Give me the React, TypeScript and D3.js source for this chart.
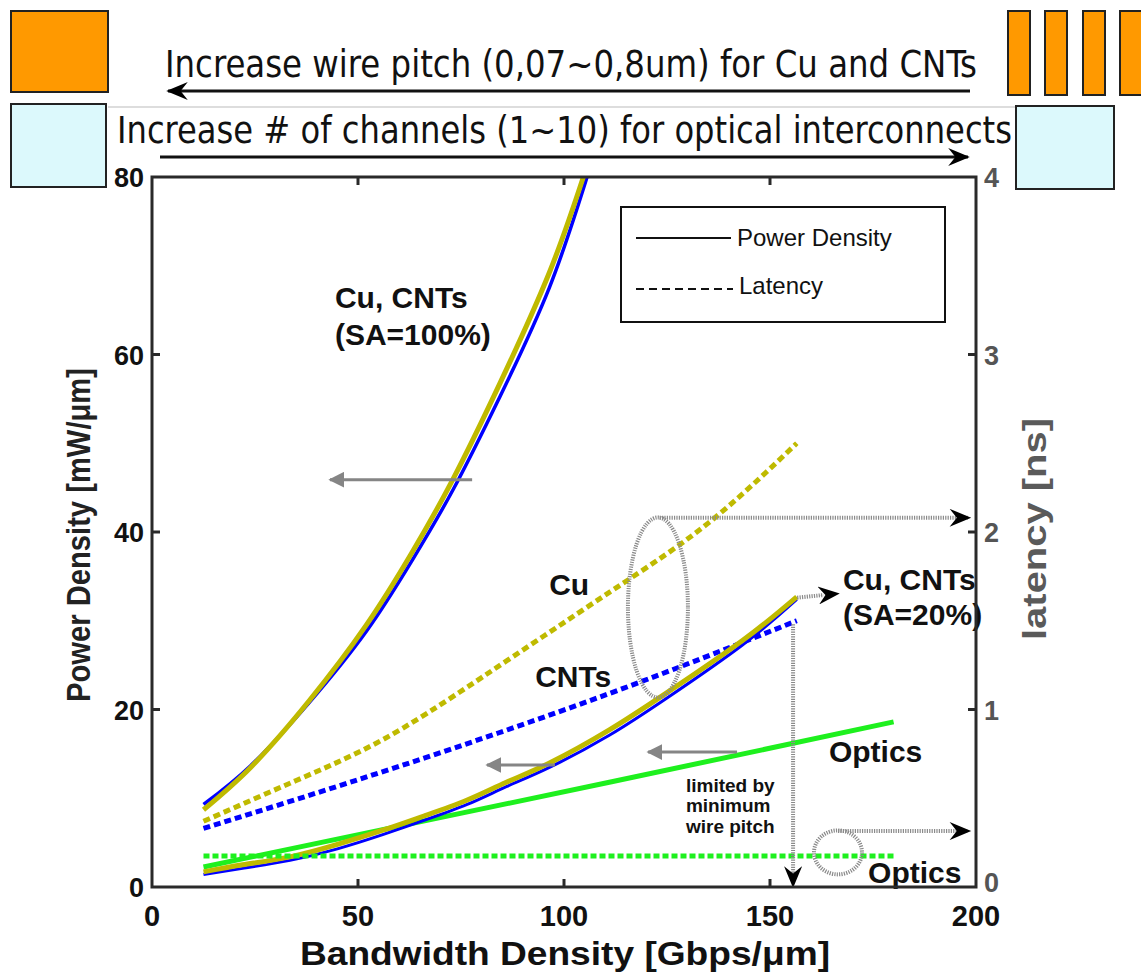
import * as d3 from 'd3';
import React from 'react';

const W = 1141;
const H = 972;
const plot = { left: 152, right: 976, top: 177, bottom: 887 };

// bandwidth density [Gbps/um] vs power density [mW/um], SA=100%
const bwHigh = [12.5, 24, 38, 52, 63, 73, 84.5, 96.5, 104.7];
const cuHigh = [8.7, 13.5, 20.9, 29.5, 37.6, 45.9, 56.8, 69.3, 80];
const bwHighCnt = [12.5, 24, 38, 52, 63, 73, 84.5, 96.5, 105.6];
const cntHigh = [9.3, 13.7, 20.7, 28.8, 36.7, 44.7, 55.3, 67.6, 80];

// SA=20%
const bwLow = [12.5, 22, 33.5, 45, 56, 66, 76.5, 86, 96.6, 111, 125, 143.4, 156.5];
const cuLow = [1.7, 2.5, 3.4, 4.8, 6.4, 8.0, 9.8, 11.8, 14, 17.7, 21.9, 27.8, 32.7];
const cntLow = [1.4, 2.1, 3.0, 4.3, 5.9, 7.5, 9.3, 11.3, 13.5, 17.1, 21.3, 27.3, 32.4];

// optics power
const bwOpt = [12.5, 111, 180];
const optPower = [2.25, 11.8, 18.6];

// latency [ns]
const bwCuLat = [12.5, 35, 56, 80, 111, 135, 156.5];
const cuLat = [0.37, 0.6, 0.83, 1.18, 1.66, 2.05, 2.5];
const bwCntLat = [12.5, 60, 111, 156.5];
const cntLat = [0.33, 0.68, 1.09, 1.5];
const bwOptLat = [12.5, 180];
const optLat = [0.175, 0.175];

const xTicks = [0, 50, 100, 150, 200];
const yTicks = [0, 20, 40, 60, 80];
const y2Ticks = [0, 1, 2, 3, 4];

const OLIVE = '#bfba00';
const BLUE = '#0000ff';
const GREEN = '#1ef01e';
const GREY = '#858585';
const FONT = '"Liberation Sans", Arial, sans-serif';
const NARROW = '"Liberation Sans Narrow", "DejaVu Sans Condensed", "Liberation Sans", sans-serif';

const x = d3.scaleLinear().domain([0, 200]).range([plot.left, plot.right]);
const y = d3.scaleLinear().domain([0, 80]).range([plot.bottom, plot.top]);
const y2 = d3.scaleLinear().domain([0, 4]).range([plot.bottom, plot.top]);

const pts = (xs: number[], ys: number[]) => xs.map((v, i) => [v, ys[i]] as [number, number]);
const powerLine = d3.line<[number, number]>().x(d => x(d[0])).y(d => y(d[1])).curve(d3.curveNatural);
const latLine = d3.line<[number, number]>().x(d => x(d[0])).y(d => y2(d[1])).curve(d3.curveNatural);

const dotted = { stroke: '#8a8a8a', strokeWidth: 4, strokeDasharray: '1.2 1.2', fill: 'none' };

const App = () => {
  return (
    <svg width={W} height={H} style={{ position: 'absolute', left: 0, top: 0, background: '#fff' }}>
      <defs>
        <marker id="blkBig" viewBox="0 0 12 10" refX="11" refY="5" markerWidth="24" markerHeight="18" markerUnits="userSpaceOnUse" orient="auto">
          <path d="M0,0 L12,5 L0,10 L4,5 z" fill="#000" />
        </marker>
        <marker id="gry" viewBox="0 0 10 10" refX="9" refY="5" markerWidth="16" markerHeight="16" markerUnits="userSpaceOnUse" orient="auto">
          <path d="M0,0 L10,5 L0,10 z" fill={GREY} />
        </marker>
      </defs>

      {/* top decoration */}
      <rect x={11} y={11} width={97} height={81} fill="#ff9900" stroke="#222" strokeWidth={2} />
      {[1008, 1045, 1083, 1120].map(px => (
        <rect key={px} x={px} y={11} width={22} height={84} fill="#ff9900" stroke="#222" strokeWidth={2} />
      ))}
      <text x={165} y={77} fontFamily={NARROW} fontSize={37} textLength={812} lengthAdjust="spacingAndGlyphs" fill="#111">
        Increase wire pitch (0,07~0,8um) for Cu and CNTs
      </text>
      <line x1={970} y1={91} x2={168} y2={91} stroke="#111" strokeWidth={3} markerEnd="url(#blkBig)" />
      <line x1={108} y1={107} x2={1015} y2={107} stroke="#bbb" strokeWidth={1} />
      <rect x={11} y={104} width={95} height={83} fill="#dcf9fc" stroke="#222" strokeWidth={2} />
      <rect x={1016} y={106} width={98} height={83} fill="#dcf9fc" stroke="#222" strokeWidth={2} />
      <text x={117} y={143} fontFamily={NARROW} fontSize={37} textLength={895} lengthAdjust="spacingAndGlyphs" fill="#111">
        Increase # of channels (1~10) for optical interconnects
      </text>
      <line x1={160} y1={157} x2={968} y2={157} stroke="#111" strokeWidth={3} markerEnd="url(#blkBig)" />

      {/* series */}
      <path d={powerLine(pts(bwHighCnt, cntHigh)) ?? ''} fill="none" stroke={BLUE} strokeWidth={3.5} />
      <path d={powerLine(pts(bwHigh, cuHigh)) ?? ''} fill="none" stroke={OLIVE} strokeWidth={5} />
      <path d={latLine(pts(bwCuLat, cuLat)) ?? ''} fill="none" stroke={OLIVE} strokeWidth={5} strokeDasharray="7 4" />
      <path d={latLine(pts(bwCntLat, cntLat)) ?? ''} fill="none" stroke={BLUE} strokeWidth={5} strokeDasharray="7 4" />
      <path d={powerLine(pts(bwOpt, optPower)) ?? ''} fill="none" stroke={GREEN} strokeWidth={5} />
      <path d={powerLine(pts(bwLow, cntLow)) ?? ''} fill="none" stroke={BLUE} strokeWidth={3} />
      <path d={powerLine(pts(bwLow, cuLow)) ?? ''} fill="none" stroke={OLIVE} strokeWidth={5} />
      <path d={latLine(pts(bwOptLat, optLat)) ?? ''} fill="none" stroke={GREEN} strokeWidth={5} strokeDasharray="6 3" />

      {/* annotations */}
      <line x1={x(77.7)} y1={y(45.9)} x2={x(43.2)} y2={y(45.9)} stroke={GREY} strokeWidth={3} markerEnd="url(#gry)" />
      <line x1={x(97.8)} y1={y(13.75)} x2={x(81.3)} y2={y(13.75)} stroke={GREY} strokeWidth={3} markerEnd="url(#gry)" />
      <line x1={x(142)} y1={y(15.2)} x2={x(120.4)} y2={y(15.2)} stroke={GREY} strokeWidth={3} markerEnd="url(#gry)" />

      <ellipse cx={x(122.8)} cy={y(31.5)} rx={30} ry={90} {...dotted} />
      <line x1={x(123.2)} y1={y(41.6)} x2={x(198)} y2={y(41.6)} {...dotted} />
      <line x1={x(195)} y1={y(41.6)} x2={x(198.4)} y2={y(41.6)} stroke="#000" strokeWidth={0.1} markerEnd="url(#blkBig)" />

      <line x1={x(156.6)} y1={y(32.6)} x2={x(163)} y2={y(32.9)} {...dotted} />
      <line x1={x(162)} y1={y(32.85)} x2={x(166.5)} y2={y(33.05)} stroke="#000" strokeWidth={0.1} markerEnd="url(#blkBig)" />

      <line x1={x(155.6)} y1={y(29.6)} x2={x(155.6)} y2={y(1.5)} {...dotted} />
      <line x1={x(155.6)} y1={y(2)} x2={x(155.6)} y2={y(0.1)} stroke="#000" strokeWidth={0.1} markerEnd="url(#blkBig)" />

      <ellipse cx={x(166.5)} cy={y(3.9)} rx={24} ry={22} {...dotted} />
      <line x1={x(166.5)} y1={y(6.3)} x2={x(198)} y2={y(6.3)} {...dotted} />
      <line x1={x(195)} y1={y(6.3)} x2={x(198.4)} y2={y(6.3)} stroke="#000" strokeWidth={0.1} markerEnd="url(#blkBig)" />

      <g fontFamily={FONT} fontWeight="bold" fill="#111" fontSize={30}>
        <text x={x(44.4)} y={y(65.2)}>Cu, CNTs</text>
        <text x={x(44.4)} y={y(61.1)}>(SA=100%)</text>
        <text x={x(96.4)} y={y(32.9)}>Cu</text>
        <text x={x(93)} y={y(22.5)}>CNTs</text>
        <text x={x(167.7)} y={y(33.5)}>Cu, CNTs</text>
        <text x={x(167.7)} y={y(29.5)}>(SA=20%)</text>
        <text x={x(164.3)} y={y(14.1)}>Optics</text>
        <text x={x(173.8)} y={y(0.45)}>Optics</text>
      </g>
      <g fontFamily={FONT} fontWeight="bold" fill="#111" fontSize={19}>
        <text x={x(129.6)} y={y(10.7)}>limited by</text>
        <text x={x(129.6)} y={y(8.45)}>minimum</text>
        <text x={x(129.6)} y={y(6.08)}>wire pitch</text>
      </g>

      {/* legend */}
      <rect x={621} y={207} width={324} height={115} fill="#fff" stroke="#111" strokeWidth={2} />
      <line x1={636} y1={238} x2={731} y2={238} stroke="#111" strokeWidth={2} />
      <line x1={636} y1={289} x2={733} y2={289} stroke="#111" strokeWidth={2} strokeDasharray="8 5" />
      <text x={737} y={246} fontFamily={FONT} fontSize={24} fill="#111">Power Density</text>
      <text x={739} y={294} fontFamily={FONT} fontSize={24} fill="#111">Latency</text>

      {/* frame and axes */}
      <rect x={plot.left} y={plot.top} width={plot.right - plot.left} height={plot.bottom - plot.top} fill="none" stroke="#2a2a2a" strokeWidth={3} />
      {xTicks.slice(1, -1).map(t => (
        <g key={'xt' + t}>
          <line x1={x(t)} x2={x(t)} y1={plot.bottom} y2={plot.bottom - 8} stroke="#2a2a2a" strokeWidth={3} />
          <line x1={x(t)} x2={x(t)} y1={plot.top} y2={plot.top + 8} stroke="#2a2a2a" strokeWidth={3} />
        </g>
      ))}
      {yTicks.slice(1, -1).map(t => (
        <line key={'yt' + t} x1={plot.left} x2={plot.left + 8} y1={y(t)} y2={y(t)} stroke="#2a2a2a" strokeWidth={3} />
      ))}
      {y2Ticks.slice(1, -1).map(t => (
        <line key={'y2t' + t} x1={plot.right} x2={plot.right - 8} y1={y2(t)} y2={y2(t)} stroke="#2a2a2a" strokeWidth={3} />
      ))}
      <g fontFamily={FONT} fontWeight="bold" fontSize={29} fill="#111" textAnchor="middle">
        {xTicks.map(t => (
          <text key={'xl' + t} x={x(t)} y={plot.bottom + 39}>{t}</text>
        ))}
      </g>
      <g fontFamily={FONT} fontWeight="bold" fontSize={27} fill="#111" textAnchor="end">
        {yTicks.map(t => (
          <text key={'yl' + t} x={plot.left - 8} y={y(t) + 10}>{t}</text>
        ))}
      </g>
      <g fontFamily={FONT} fontWeight="bold" fontSize={27} fill="#555" textAnchor="start">
        {y2Ticks.map(t => (
          <text key={'y2l' + t} x={plot.right + 8} y={y2(t) + (t === 0 ? 5 : 10)}>{t}</text>
        ))}
      </g>
      <text x={565} y={965} fontFamily={FONT} fontWeight="bold" fontSize={34} textAnchor="middle" textLength={530} lengthAdjust="spacingAndGlyphs" fill="#111">
        Bandwidth Density [Gbps/μm]
      </text>
      <text transform={`translate(90,535) rotate(-90)`} fontFamily={FONT} fontWeight="bold" fontSize={33} textAnchor="middle" textLength={334} lengthAdjust="spacingAndGlyphs" fill="#222">
        Power Density [mW/μm]
      </text>
      <text transform={`translate(1046,529) rotate(-90)`} fontFamily={FONT} fontWeight="bold" fontSize={33} textAnchor="middle" textLength={222} lengthAdjust="spacingAndGlyphs" fill="#5a5a5a">
        latency [ns]
      </text>
    </svg>
  );
};

export default App;
